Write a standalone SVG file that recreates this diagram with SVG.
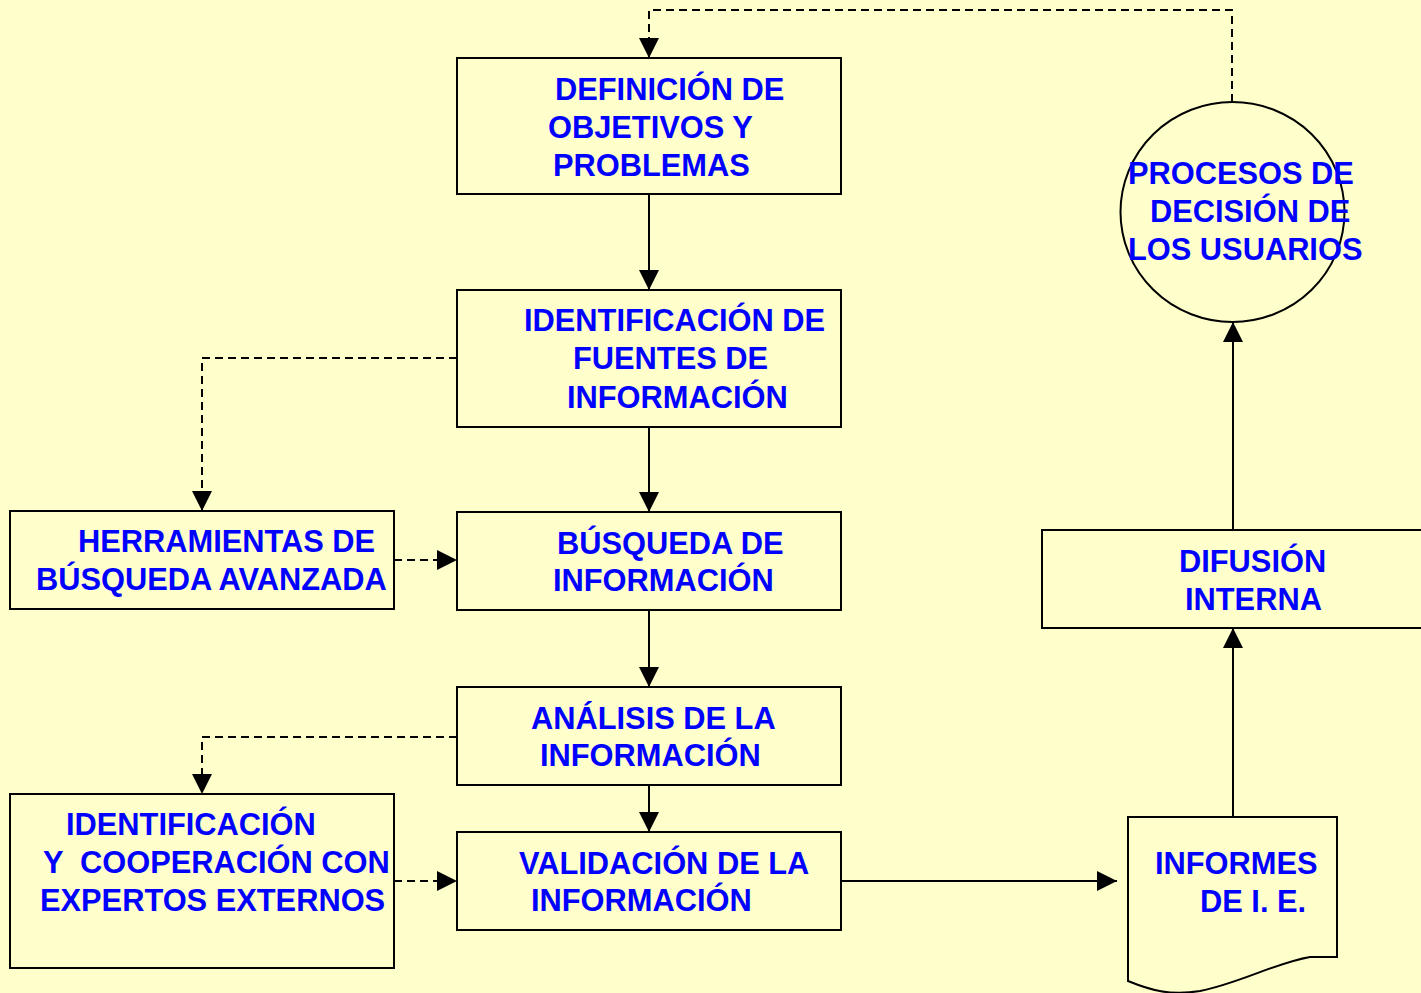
<svg xmlns="http://www.w3.org/2000/svg" width="1421" height="993" viewBox="0 0 1421 993">
<defs>
<marker id="ah" markerUnits="userSpaceOnUse" markerWidth="20" markerHeight="20" refX="20" refY="10" orient="auto">
<path d="M0,0 L20,10 L0,20 Z" fill="#000"/>
</marker>
<style>
.box{fill:#FFFFCC;stroke:#000;stroke-width:2}
.t{font-family:"Liberation Sans",Arial,sans-serif;font-weight:bold;font-size:30.8px;fill:#0000FF}
.c{fill:none;stroke:#000;stroke-width:2;marker-end:url(#ah)}
.d{fill:none;stroke:#000;stroke-width:2;stroke-dasharray:8,5;marker-end:url(#ah)}
</style>
</defs>
<rect width="1421" height="993" fill="#FFFFCC"/>
<g id="connectors">
<path class="c" d="M649,194 V290"/>
<path class="c" d="M649,427 V512"/>
<path class="c" d="M649,610 V687"/>
<path class="c" d="M649,785 V832"/>
<path class="d" d="M457,358 H202 V511"/>
<path class="d" d="M394,560 H457"/>
<path class="d" d="M457,737 H202 V794"/>
<path class="d" d="M394,881 H457"/>
<path class="c" d="M841,881 H1117"/>
<path class="c" d="M1233,817 V628"/>
<path class="c" d="M1233,530 V322"/>
<path class="d" d="M1232,102 V10 H649 V58"/>
</g>
<g id="n1"><rect class="box" x="457" y="58" width="384" height="136"/>
<text class="t"><tspan x="555" y="100">DEFINICIÓN DE</tspan><tspan x="548" y="138">OBJETIVOS Y</tspan><tspan x="553" y="176">PROBLEMAS</tspan></text></g>
<g id="n2"><rect class="box" x="457" y="290" width="384" height="137"/>
<text class="t"><tspan x="524" y="331">IDENTIFICACIÓN DE</tspan><tspan x="573" y="369">FUENTES DE</tspan><tspan x="567" y="408">INFORMACIÓN</tspan></text></g>
<g id="n3"><rect class="box" x="10" y="511" width="384" height="98"/>
<text class="t"><tspan x="78" y="552">HERRAMIENTAS DE</tspan><tspan x="36" y="590">BÚSQUEDA AVANZADA</tspan></text></g>
<g id="n4"><rect class="box" x="457" y="512" width="384" height="98"/>
<text class="t"><tspan x="557" y="554">BÚSQUEDA DE</tspan><tspan x="553" y="591">INFORMACIÓN</tspan></text></g>
<g id="n5"><rect class="box" x="457" y="687" width="384" height="98"/>
<text class="t"><tspan x="531" y="729">ANÁLISIS DE LA</tspan><tspan x="540" y="766">INFORMACIÓN</tspan></text></g>
<g id="n6"><rect class="box" x="10" y="794" width="384" height="174"/>
<text class="t" xml:space="preserve"><tspan x="66" y="835">IDENTIFICACIÓN</tspan><tspan x="43" y="873">Y  COOPERACIÓN CON</tspan><tspan x="40" y="911">EXPERTOS EXTERNOS</tspan></text></g>
<g id="n7"><rect class="box" x="457" y="832" width="384" height="98"/>
<text class="t"><tspan x="519" y="874">VALIDACIÓN DE LA</tspan><tspan x="531" y="911">INFORMACIÓN</tspan></text></g>
<g id="n8"><path class="box" d="M1128,817 H1337 V957 H1310 C1275,963 1240,983 1200,991 C1170,996 1150,990 1128,981 Z"/>
<text class="t"><tspan x="1155" y="874">INFORMES</tspan><tspan x="1200" y="912">DE I. E.</tspan></text></g>
<g id="n9"><rect class="box" x="1042" y="530" width="392" height="98"/>
<text class="t"><tspan x="1179" y="572">DIFUSIÓN</tspan><tspan x="1185" y="610">INTERNA</tspan></text></g>
<g id="n10"><ellipse class="box" cx="1232.5" cy="212" rx="112" ry="110"/>
<text class="t"><tspan x="1128" y="184">PROCESOS DE</tspan><tspan x="1150" y="222">DECISIÓN DE</tspan><tspan x="1128" y="260">LOS USUARIOS</tspan></text></g>
</svg>
